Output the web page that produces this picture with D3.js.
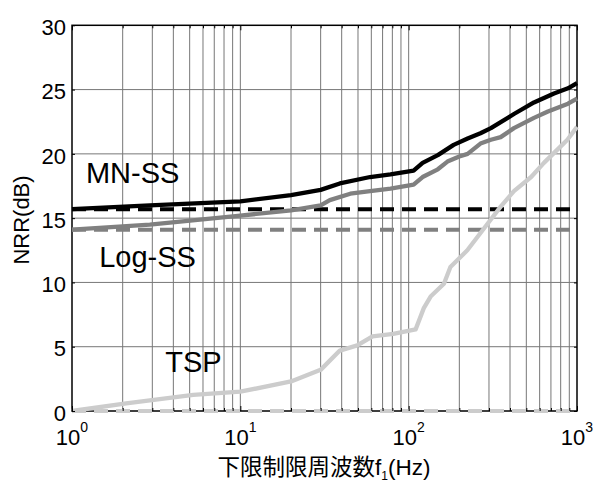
<!DOCTYPE html>
<html>
<head>
<meta charset="utf-8">
<script src="https://cdn.jsdelivr.net/npm/d3@7"></script>
<style>
  html, body { margin: 0; padding: 0; background: #fff; }
  svg { display: block; }
  text { font-family: "Liberation Sans", Arial, "Noto Sans CJK JP", sans-serif; fill: #000; }
</style>
</head>
<body>
<svg id="chart" width="596" height="484"></svg>
<script>
// Lower cut-off frequency f1 (Hz) and noise reduction ratio (dB) per method
const freqMN = [1, 2.9, 10, 20, 30, 39, 59, 78, 107, 121, 149, 185, 224, 267, 308, 422, 555, 730, 884, 1000];
const nrrMN  = [15.7, 16.0, 16.3, 16.8, 17.2, 17.7, 18.2, 18.4, 18.7, 19.3, 19.9, 20.7, 21.2, 21.6, 22.0, 23.1, 24.0, 24.7, 25.1, 25.5];

const freqLog = [1, 2.9, 10, 20, 30, 34, 45, 59, 78, 107, 121, 149, 170, 200, 224, 267, 308, 352, 422, 555, 672, 884, 1000];
const nrrLog  = [14.1, 14.5, 15.2, 15.6, 16.0, 16.4, 16.9, 17.1, 17.3, 17.6, 18.2, 18.8, 19.4, 19.8, 20.0, 20.8, 21.1, 21.3, 22.0, 22.8, 23.3, 23.9, 24.3];

const freqTSP = [1, 2.1, 5.25, 10, 20, 30, 39, 49.5, 61, 81, 110, 123, 135, 162, 177, 204, 223, 280, 352, 422, 534, 636, 803, 877, 1000];
const nrrTSP  = [0.0, 0.6, 1.25, 1.5, 2.3, 3.2, 4.7, 5.1, 5.8, 6.0, 6.35, 8.0, 8.9, 9.9, 11.2, 12.0, 12.5, 14.2, 15.9, 17.1, 18.2, 19.3, 20.6, 21.1, 22.1];

// Reference levels (dashed): NRR of each method without band limiting
const refLevels = [15.7, 14.1, 0];
const refNames  = ["MN-SS", "Log-SS", "TSP"];

const yTicks = [0, 5, 10, 15, 20, 25, 30];
const xMajorTicks = [1, 10, 100, 1000];
const xTickExponents = ["0", "1", "2", "3"];
const methodLabels = ["MN-SS", "Log-SS", "TSP"];

const colors = { "MN-SS": "#000000", "Log-SS": "#808080", "TSP": "#cccccc" };

const svg = d3.select("#chart");
const plotL = 72, plotR = 577, plotT = 25.3, plotB = 411;

const x = d3.scaleLog().domain([1, 1000]).range([plotL, plotR]);
const y = d3.scaleLinear().domain([0, 30]).range([plotB, plotT]);

svg.append("rect").attr("width", 596).attr("height", 484).attr("fill", "#fff");

// minor ticks: 2..9 of each decade
const xMinorTicks = [];
for (let d = 1; d < 1000; d *= 10) for (let k = 2; k <= 9; k++) xMinorTicks.push(d * k);

// grid
const grid = svg.append("g").attr("stroke", "#777").attr("stroke-width", 1);
grid.selectAll("line.v").data(xMinorTicks.concat([10, 100])).join("line")
  .attr("x1", d => x(d)).attr("x2", d => x(d)).attr("y1", plotT).attr("y2", plotB);
grid.selectAll("line.h").data(yTicks.filter(v => v > 0 && v < 30)).join("line")
  .attr("x1", plotL).attr("x2", plotR).attr("y1", d => y(d)).attr("y2", d => y(d));

// frame
svg.append("rect").attr("x", plotL).attr("y", plotT).attr("width", plotR - plotL).attr("height", plotB - plotT)
  .attr("fill", "none").attr("stroke", "#000").attr("stroke-width", 1.5);

// dashed reference levels
svg.append("g").selectAll("line").data(refLevels).join("line")
  .attr("x1", plotL).attr("x2", plotR)
  .attr("y1", d => y(d)).attr("y2", d => y(d))
  .attr("stroke", (d, i) => colors[refNames[i]])
  .attr("stroke-width", 4)
  .attr("stroke-dasharray", "14,8");

// curves
const line = d3.line().x(d => x(d[0])).y(d => y(d[1]));
const series = [
  { name: "TSP", f: freqTSP, v: nrrTSP },
  { name: "Log-SS", f: freqLog, v: nrrLog },
  { name: "MN-SS", f: freqMN, v: nrrMN }
];
svg.append("g").selectAll("path").data(series).join("path")
  .attr("d", s => line(s.f.map((f, i) => [f, s.v[i]])))
  .attr("fill", "none")
  .attr("stroke", s => colors[s.name])
  .attr("stroke-width", 4.3)
  .attr("stroke-linejoin", "round");

// axes with inward ticks
const axL = svg.append("g").attr("transform", `translate(${plotL},0)`)
  .call(d3.axisLeft(y).tickValues(yTicks).tickSize(-3).tickPadding(6).tickFormat(d3.format("d")));
axL.select(".domain").remove();
axL.selectAll("text").attr("font-size", 22).attr("dy", "0.42em");

const axR = svg.append("g").attr("transform", `translate(${plotR},0)`)
  .call(d3.axisRight(y).tickValues(yTicks).tickSize(-3).tickFormat(""));
axR.select(".domain").remove();

const axB = svg.append("g").attr("transform", `translate(0,${plotB})`)
  .call(d3.axisBottom(x).tickValues(xMajorTicks).tickSize(-5).tickFormat(""));
axB.select(".domain").remove();
const axBm = svg.append("g").attr("transform", `translate(0,${plotB})`)
  .call(d3.axisBottom(x).tickValues(xMinorTicks).tickSize(-3).tickFormat(""));
axBm.select(".domain").remove();

const axT = svg.append("g").attr("transform", `translate(0,${plotT})`)
  .call(d3.axisTop(x).tickValues(xMajorTicks).tickSize(-5).tickFormat(""));
axT.select(".domain").remove();
const axTm = svg.append("g").attr("transform", `translate(0,${plotT})`)
  .call(d3.axisTop(x).tickValues(xMinorTicks).tickSize(-3).tickFormat(""));
axTm.select(".domain").remove();

svg.selectAll(".tick line").attr("stroke", "#000");

// x tick labels as powers of ten
const xl = svg.append("g").selectAll("text").data(xMajorTicks).join("text")
  .attr("x", d => x(d)).attr("y", plotB + 33.5)
  .attr("text-anchor", "middle").attr("font-size", 22);
xl.append("tspan").text("10");
xl.append("tspan").attr("font-size", 14).attr("dy", -13).text((d, i) => xTickExponents[i]);

// axis titles
const xt = svg.append("text").attr("x", 324).attr("y", 475).attr("text-anchor", "middle")
  .attr("font-size", 22.5);
xt.append("tspan").text("下限制限周波数f");
xt.append("tspan").attr("font-size", 12).attr("dy", 5).text("1");
xt.append("tspan").attr("dy", -5).text("(Hz)");

svg.append("text").attr("transform", "translate(29,220) rotate(-90)")
  .attr("text-anchor", "middle").attr("font-size", 22).text("NRR(dB)");

// method labels
const labelPos = [[1.21, 17.75], [1.45, 11.2], [3.58, 3.03]];
svg.append("g").selectAll("text").data(methodLabels).join("text")
  .attr("x", (d, i) => x(labelPos[i][0])).attr("y", (d, i) => y(labelPos[i][1]))
  .attr("font-size", 29).text(d => d);
</script>
</body>
</html>
